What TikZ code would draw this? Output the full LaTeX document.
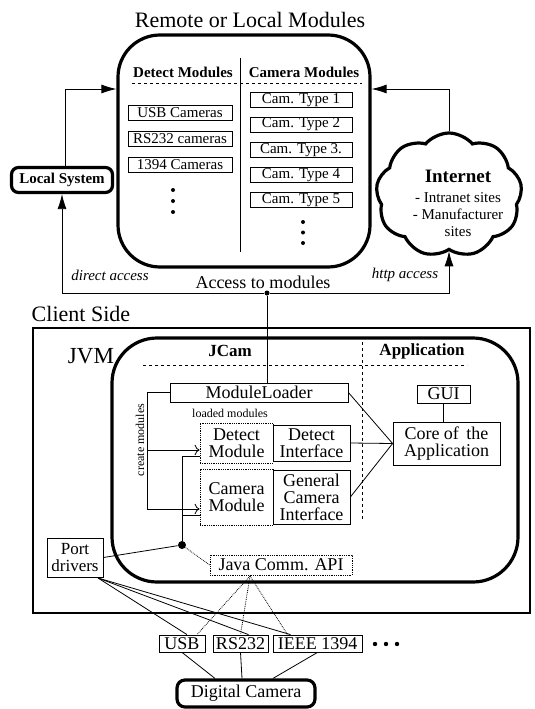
\documentclass[tikz,border=0pt]{standalone}
\usepackage{fontspec}
\setmainfont{Liberation Serif}
\usetikzlibrary{arrows.meta,shapes.symbols}
\newcommand{\fsz}[2]{\fontsize{#1}{#2}\selectfont}
\tikzset{
  box/.style={draw, line width=0.8pt, inner sep=0.5pt, align=center, font=\fsz{18}{17}},
  dotbox/.style={box, densely dotted},
  item/.style={box, font=\fsz{15}{17}, minimum height=15pt},
  bigbox/.style={draw, line width=3.2pt, inner sep=0pt},
  hdr/.style={font=\bfseries\fsz{15}{17}},
  bigarrow/.style={line width=0.8pt, -{Latex[length=15pt,width=9pt]}},
  dotnode/.style={circle, fill, inner sep=0pt, minimum size=#1},
  dotnode/.default=5pt
}
\begin{document}
\begin{tikzpicture}[x=1pt,y=-1pt,line width=0.8pt]
\useasboundingbox (0,0) rectangle (535,709);

% Moduli remoti o locali
\node[font=\fsz{22}{26}] (ttl) at (250,20) {Remote or Local Modules};
\node[bigbox, rounded corners=42pt, minimum width=252pt, minimum height=232pt] (remote) at (244,151) {};
\draw (240,58) -- (240,252);
\node[hdr] (detmods) at (183,72) {Detect Modules};
\node[hdr] (cammods) at (304,72) {Camera Modules};
\draw[dashed] (132,83) -- (362,83);

\node[item, minimum width=104pt] (usbcam) at (180,112.5) {USB Cameras};
\node[item, minimum width=104pt] (rscam) at (180,139) {RS232 cameras};
\node[item, minimum width=104pt] (fwcam) at (180,165) {1394 Cameras};
\foreach \y in {190,201,212} \fill (173,\y) circle (2pt);

\foreach \i/\y/\t in {1/100/1,2/124.5/2,3/150/3.,4/175/4,5/200/5}
  \node[item, minimum width=102pt] (ct\i) at (301,\y) {Cam. Type \t};
\foreach \y in {222,232.5,243} \fill (303,\y) circle (2pt);

% Sistema locale e internet
\node[bigbox, rounded corners=7pt, minimum width=101pt, minimum height=25pt, font=\bfseries\fsz{15}{17}] (locsys) at (62,180) {Local System};
\node[cloud, draw, line width=3.2pt, cloud puffs=9, cloud puff arc=100, cloud ignores aspect,
  minimum width=146pt, minimum height=124pt] (inet) at (449,195) {};
\node[align=center, font=\fsz{15}{17}] (inettxt) at (458,203) {{\bfseries\fsz{19}{21}Internet}\\[3pt] - Intranet sites\\ - Manufacturer\\ sites};

% Accesso ai moduli
\node[dotnode] (acc) at (267,293) {};
\draw[bigarrow] ([xshift=3pt]locsys.north) |- (remote.west |- 0,89);
\draw[bigarrow] (inet.north) |- (remote.east |- 0,89);
\draw[bigarrow] (acc) -| (locsys.south);
\draw[bigarrow] (acc) -| (inet.south);
\node[font=\itshape\fsz{15}{17}] (direct) at (110,275) {direct access};
\node[font=\itshape\fsz{15}{17}] (http) at (405,275) {http access};
\node[font=\fsz{18}{20}] (acclbl) at (263,282) {Access to modules};

% Lato client
\node[font=\fsz{22}{26}, anchor=west] (clsd) at (28,314) {Client Side};
\node[bigbox, line width=2.8pt, minimum width=497pt, minimum height=285pt] (client) at (281.5,470.5) {};
\node[font=\fsz{23}{26}] (jvmlbl) at (91,356) {JVM};
\node[bigbox, rounded corners=45pt, minimum width=406pt, minimum height=244pt] (jvm) at (315,460) {};
\node[font=\bfseries\fsz{17}{19}] (jcam) at (230,351) {JCam};
\node[font=\bfseries\fsz{17}{19}] (applbl) at (422,351) {Application};
\draw[dashed] (143,365) -- (467,365);
\draw[dashed] (362,342) -- (362,520);

\node[box, minimum width=178pt, minimum height=19pt] (loader) at (259,392.5) {ModuleLoader};
\node[box, minimum width=53pt, minimum height=18pt] (gui) at (443.5,394) {GUI};
\node[box, minimum width=107pt, minimum height=43pt] (core) at (446.5,443.5) {Core of\, the\\Application};
\node[font=\fsz{12}{14}] (loaded) at (230,413) {loaded modules};
\node[dotbox, minimum width=73pt, minimum height=40pt] (detmod) at (236.5,443) {Detect\\Module};
\node[box, minimum width=77pt, minimum height=36pt] (detint) at (311.5,443) {Detect\\Interface};
\node[dotbox, minimum width=73pt, minimum height=56pt] (cammod) at (236.5,497) {Camera\\Module};
\node[box, minimum width=77pt, minimum height=54pt] (genint) at (311.5,497) {General\\Camera\\Interface};

\draw (acc) -- (acc |- loader.north);
\draw (gui.south) -- (gui.south |- core.north);
\draw (loader.east) -- (core.west);
\draw (detint.east) -- (core.west);
\draw (genint.east) -- (core.west);

% Creazione dei moduli
\coordinate (cmtop) at (147,392.5);
\coordinate (cmmid) at (147,450);
\coordinate (cmbot) at (147,509);
\draw (loader.west) -- (cmtop) -- (cmbot);
\draw[-{To[length=5pt]}] (cmmid) -- (detmod.west |- cmmid);
\draw[-{To[length=5pt]}] (cmbot) -- (cammod.west |- cmbot);
\node[font=\fsz{12}{14}, rotate=90] (create) at (140,440) {create modules};

% Porte e driver
\node[dotnode=8pt] (jc) at (182,545) {};
\coordinate (jcup) at (182,456);
\coordinate (jcmid) at (182,515);
\draw (jc) -- (jcup) -- (detmod.west |- jcup);
\draw (jcmid) -- (cammod.west |- jcmid);
\node[box, minimum width=56pt, minimum height=39pt, font=\fsz{17}{17}] (port) at (75,557.5) {Port\\drivers};
\node[dotbox, minimum width=142pt, minimum height=20pt] (comm) at (281,565) {Java Comm. API};
\draw (port.east) -- (jc);
\draw[densely dotted] (jc) -- (comm.west);

\node[box, minimum width=46pt, minimum height=17pt] (usb) at (182,643.5) {USB};
\node[box, minimum width=55pt, minimum height=17pt] (rs) at (240.5,643.5) {RS232};
\node[box, minimum width=89pt, minimum height=17pt] (ieee) at (317.5,643.5) {IEEE 1394};
\foreach \x in {375,386,397} \fill (\x,644) circle (2.2pt);

\coordinate (commb) at (250,576);
\coordinate (portb) at (98,578);
\draw[densely dotted] (commb) -- ([xshift=15pt]usb.north);
\draw[densely dotted] (commb) -- (rs.north);
\draw[densely dotted] (commb) -- ([xshift=-30pt]ieee.north);
\draw (portb) -- ([xshift=5pt]usb.north);
\draw (portb) -- ([xshift=8pt]rs.north);
\draw (portb) -- ([xshift=-27pt]ieee.north);

% Camera digitale
\node[bigbox, rounded corners=8pt, minimum width=138pt, minimum height=27pt, font=\fsz{18}{20}] (cam) at (246,693.5) {Digital Camera};
\draw (usb.south) -- ([xshift=-31pt]cam.north);
\draw (rs.south) -- ([xshift=-4pt]cam.north);
\draw (ieee.south) -- ([xshift=27pt]cam.north);
\end{tikzpicture}
\end{document}
